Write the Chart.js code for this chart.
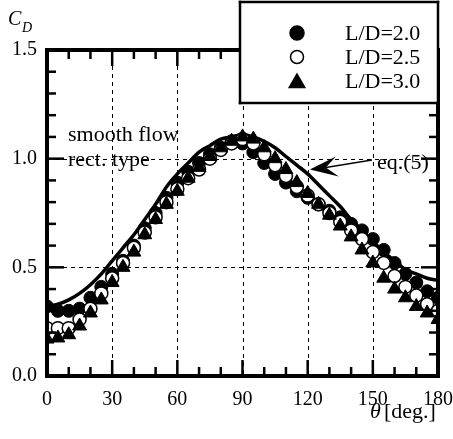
<!DOCTYPE html>
<html>
<head>
<meta charset="utf-8">
<script src="https://cdn.jsdelivr.net/npm/chart.js@4"></script>
<style>
  body { margin: 0; background: #fff; }
</style>
</head>
<body>
<canvas id="chart" width="453" height="439"></canvas>
<script>
// angle of attack, every 5 degrees
const theta = [0, 5, 10, 15, 20, 25, 30, 35, 40, 45, 50, 55, 60, 65, 70, 75, 80, 85, 90,
               95, 100, 105, 110, 115, 120, 125, 130, 135, 140, 145, 150, 155, 160, 165, 170, 175, 180];

// measured drag coefficients
const cdLD20 = [0.32, 0.30, 0.30, 0.31, 0.36, 0.41, 0.47, 0.53, 0.60, 0.68, 0.75, 0.82, 0.89, 0.94, 0.98, 1.02, 1.05, 1.08, 1.07,
                1.03, 0.98, 0.93, 0.89, 0.85, 0.82, 0.79, 0.76, 0.73, 0.70, 0.67, 0.63, 0.58, 0.52, 0.47, 0.43, 0.39, 0.36];
const cdLD25 = [0.22, 0.22, 0.22, 0.26, 0.31, 0.38, 0.45, 0.52, 0.59, 0.66, 0.73, 0.80, 0.86, 0.91, 0.95, 1.00, 1.04, 1.07, 1.09,
                1.07, 1.02, 0.97, 0.92, 0.87, 0.83, 0.79, 0.75, 0.71, 0.67, 0.63, 0.57, 0.52, 0.46, 0.41, 0.37, 0.33, 0.30];
const cdLD30 = [0.17, 0.175, 0.19, 0.23, 0.29, 0.35, 0.43, 0.50, 0.57, 0.65, 0.72, 0.79, 0.85, 0.91, 0.96, 1.01, 1.05, 1.08, 1.10,
                1.09, 1.05, 1.00, 0.95, 0.89, 0.84, 0.79, 0.74, 0.69, 0.64, 0.58, 0.52, 0.45, 0.40, 0.36, 0.32, 0.29, 0.26];

// eq.(5) curve
const cdEq5 = [0.32, 0.33, 0.35, 0.38, 0.42, 0.47, 0.53, 0.59, 0.65, 0.72, 0.79, 0.87, 0.93, 0.98, 1.03, 1.06, 1.09, 1.10, 1.11,
               1.10, 1.08, 1.05, 1.01, 0.97, 0.93, 0.88, 0.83, 0.78, 0.72, 0.67, 0.62, 0.57, 0.53, 0.49, 0.47, 0.45, 0.44];

// axis ticks
const xMajorTicks = [0, 30, 60, 90, 120, 150, 180];
const xMinorTicks = [10, 20, 40, 50, 70, 80, 100, 110, 130, 140, 160, 170];
const yMajorTicks = [0.0, 0.5, 1.0, 1.5];
const yMinorTicks = [0.1, 0.2, 0.3, 0.4, 0.6, 0.7, 0.8, 0.9, 1.1, 1.2, 1.3, 1.4];

const seriesNames = ['L/D=2.0', 'L/D=2.5', 'L/D=3.0'];

const SERIF = "'Liberation Serif', 'Times New Roman', serif";

const toPoints = (ys) => theta.map((t, i) => ({ x: t, y: ys[i] }));

// solid box outline made of four filled bars
function boxOutline(ctx, left, top, right, bottom, w) {
    const h = w / 2;
    ctx.fillRect(left - h, top - h, right - left + w, w);
    ctx.fillRect(left - h, bottom - h, right - left + w, w);
    ctx.fillRect(left - h, top - h, w, bottom - top + w);
    ctx.fillRect(right - h, top - h, w, bottom - top + w);
}

/**
 * Dashed grid under the points; frame, ticks, legend and notes on top
 */
const decorations = {
    id: 'decorations',
    beforeDatasetsDraw(chart) {
        const { ctx, chartArea: a, scales: { x, y } } = chart;
        ctx.save();
        ctx.fillStyle = '#000';
        xMajorTicks.slice(1, -1).forEach(v => {
            const px = Math.round(x.getPixelForValue(v));
            for (let p = a.top; p < a.bottom; p += 8) ctx.fillRect(px, p, 1, Math.min(4, a.bottom - p));
        });
        yMajorTicks.slice(1, -1).forEach(v => {
            const py = Math.round(y.getPixelForValue(v));
            for (let p = a.left; p < a.right; p += 8) ctx.fillRect(p, py, Math.min(4, a.right - p), 1);
        });
        ctx.restore();
    },
    afterDraw(chart) {
        const { ctx, chartArea: a, scales: { x, y } } = chart;
        ctx.save();
        ctx.fillStyle = '#000';

        // ticks on all four sides, pointing in
        const tw = 2.5;
        xMinorTicks.concat(xMajorTicks).forEach(v => {
            const len = xMajorTicks.includes(v) ? 16 : 9;
            const px = x.getPixelForValue(v) - tw / 2;
            ctx.fillRect(px, a.bottom - len, tw, len);
            ctx.fillRect(px, a.top, tw, len);
        });
        yMinorTicks.concat(yMajorTicks).forEach(v => {
            const len = yMajorTicks.includes(v) ? 17 : 9;
            const py = y.getPixelForValue(v) - tw / 2;
            ctx.fillRect(a.left, py, len, tw);
            ctx.fillRect(a.right - len, py, len, tw);
        });

        // frame
        boxOutline(ctx, a.left, a.top, a.right, a.bottom, 4);

        // notes
        ctx.font = '22px ' + SERIF;
        ctx.textBaseline = 'alphabetic';
        ctx.textAlign = 'left';
        ctx.fillText('smooth flow', a.left + 21, 141);
        ctx.fillText('rect. type', a.left + 21, 166);
        ctx.fillText('eq.(5)', 377, 169);

        // arrow to eq.(5) curve
        const tipX = x.getPixelForValue(121);
        const tipY = y.getPixelForValue(0.95);
        ctx.beginPath();
        ctx.moveTo(372, 159.3);
        ctx.lineTo(372, 160.8);
        ctx.lineTo(tipX + 16, tipY - 1.2);
        ctx.lineTo(tipX + 16, tipY - 2.7);
        ctx.closePath();
        ctx.fill();
        ctx.beginPath();
        ctx.moveTo(tipX, tipY);
        ctx.lineTo(tipX + 26, tipY - 13);
        ctx.lineTo(tipX + 16, tipY - 2);
        ctx.lineTo(tipX + 29, tipY + 7);
        ctx.closePath();
        ctx.fill();

        // axis titles
        ctx.font = 'italic 20px ' + SERIF;
        ctx.fillText('C', 8, 25);
        ctx.font = 'italic 14px ' + SERIF;
        ctx.fillText('D', 22, 32);
        ctx.font = 'italic 22px ' + SERIF;
        ctx.fillText('\u03b8', 370, 418);
        ctx.font = '22px ' + SERIF;
        ctx.fillText('[deg.]', 384, 418);

        // legend box
        ctx.fillStyle = '#fff';
        ctx.fillRect(240, 2, 198, 101);
        ctx.fillStyle = '#000';
        boxOutline(ctx, 240, 2, 438, 103, 2.5);
        const styles = [
            { style: 'circle', fill: '#000', r: 7 },
            { style: 'circle', fill: '#fff', r: 6.5 },
            { style: 'triangle', fill: '#000', r: 9 }
        ];
        ctx.font = '22px ' + SERIF;
        seriesNames.forEach((name, i) => {
            const cy = 33 + i * 24;
            ctx.save();
            ctx.fillStyle = styles[i].fill;
            ctx.strokeStyle = '#000';
            ctx.lineWidth = 1.5;
            Chart.helpers.drawPoint(ctx, {
                pointStyle: styles[i].style,
                radius: styles[i].r,
                rotation: 0,
                borderWidth: 1.5
            }, 297, cy + (styles[i].style === 'triangle' ? 2 : 0));
            ctx.restore();
            ctx.fillStyle = '#000';
            ctx.textBaseline = 'middle';
            ctx.fillText(name, 345, cy + 1);
        });
        ctx.restore();
    }
};

new Chart(document.getElementById('chart'), {
    type: 'scatter',
    data: {
        datasets: [
            {
                label: 'eq.(5)',
                data: toPoints(cdEq5),
                showLine: true,
                borderColor: '#000',
                borderWidth: 3.5,
                pointRadius: 0,
                tension: 0.4,
                cubicInterpolationMode: 'monotone',
                order: 5
            },
            {
                label: seriesNames[0],
                data: toPoints(cdLD20),
                pointStyle: 'circle',
                pointRadius: 6.5,
                backgroundColor: '#000',
                borderColor: '#000',
                borderWidth: 1,
                order: 4
            },
            {
                label: seriesNames[1],
                data: toPoints(cdLD25),
                pointStyle: 'circle',
                pointRadius: 6.5,
                backgroundColor: '#fff',
                borderColor: '#000',
                borderWidth: 1.5,
                order: 3
            },
            {
                label: seriesNames[2],
                data: toPoints(cdLD30),
                pointStyle: 'triangle',
                pointRadius: 8,
                backgroundColor: '#000',
                borderColor: '#000',
                borderWidth: 1,
                order: 2
            }
        ]
    },
    options: {
        responsive: false,
        animation: false,
        devicePixelRatio: 1,
        layout: {
            autoPadding: false,
            padding: { top: 50, right: 15, left: 0, bottom: 0 }
        },
        plugins: {
            legend: { display: false },
            tooltip: { enabled: false }
        },
        scales: {
            x: {
                type: 'linear',
                min: 0,
                max: 180,
                grid: { display: false, drawTicks: false },
                border: { display: false },
                ticks: {
                    stepSize: 30,
                    padding: 12,
                    color: '#000',
                    font: { family: SERIF, size: 20 },
                    maxRotation: 0
                },
                afterFit: (s) => {
                    s.height = 63;
                    s.paddingLeft = 0;
                    s.paddingRight = 0;
                }
            },
            y: {
                type: 'linear',
                min: 0,
                max: 1.5,
                grid: { display: false, drawTicks: false },
                border: { display: false },
                ticks: {
                    stepSize: 0.5,
                    padding: 10,
                    color: '#000',
                    font: { family: SERIF, size: 20 },
                    callback: (v) => v.toFixed(1)
                },
                afterFit: (s) => {
                    s.width = 47;
                    s.paddingTop = 0;
                    s.paddingBottom = 0;
                }
            }
        }
    },
    plugins: [decorations]
});
</script>
</body>
</html>
